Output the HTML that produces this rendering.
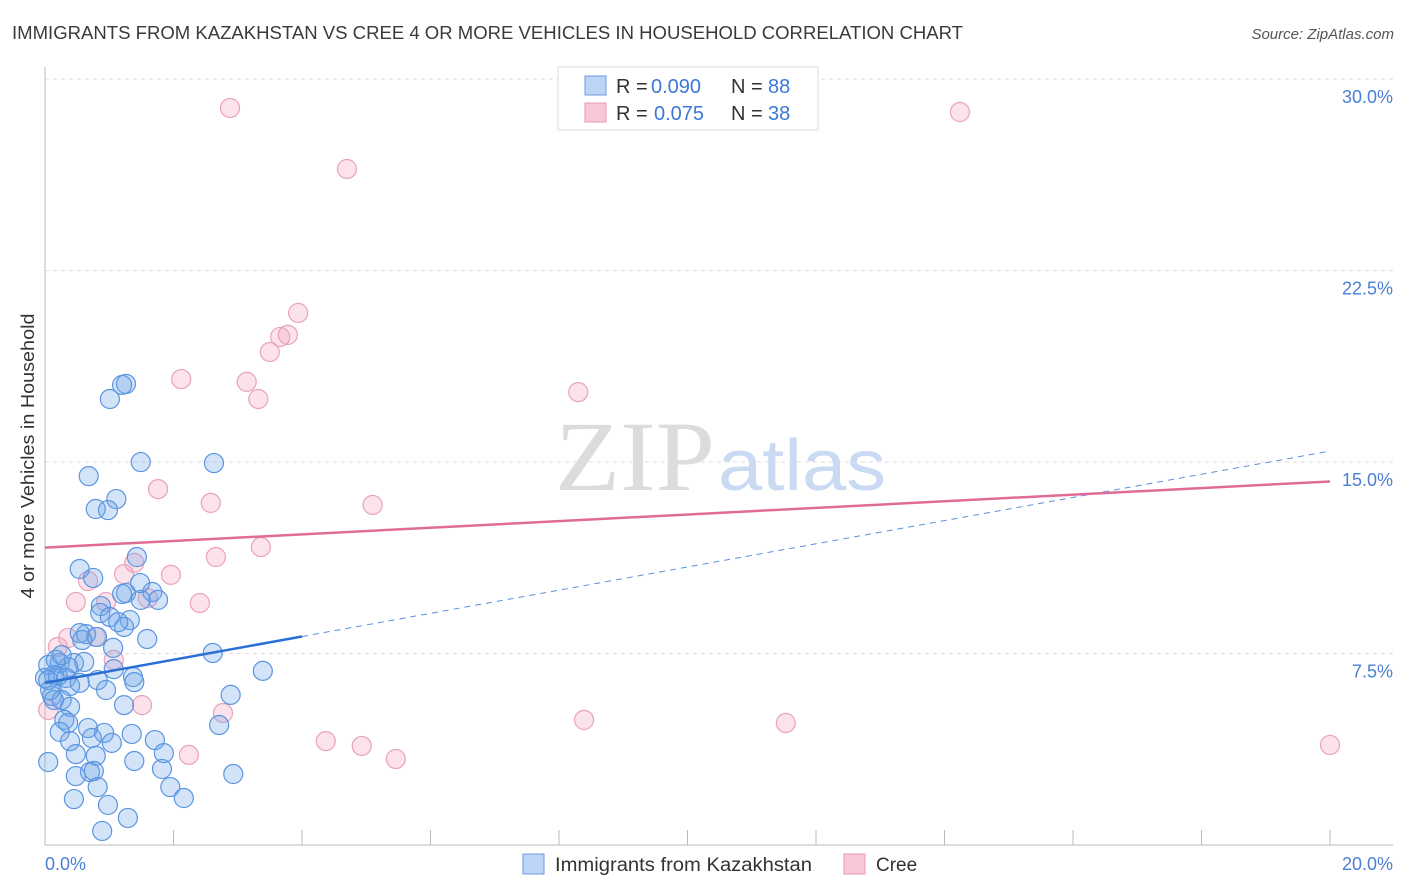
<!DOCTYPE html>
<html><head><meta charset="utf-8"><style>
body{margin:0;background:#fff;font-family:"Liberation Sans",sans-serif;}
svg{display:block}
</style></head><body>
<svg width="1406" height="892" xmlns="http://www.w3.org/2000/svg">
<text x="12" y="39" font-size="18" fill="#3a3a3a" textLength="951" lengthAdjust="spacingAndGlyphs">IMMIGRANTS FROM KAZAKHSTAN VS CREE 4 OR MORE VEHICLES IN HOUSEHOLD CORRELATION CHART</text>
<text x="1394" y="39" font-size="15" fill="#555" font-style="italic" text-anchor="end">Source: ZipAtlas.com</text>
<g>
<text x="555" y="490" font-size="100" font-family="Liberation Serif,serif" fill="#dcdcdc" textLength="160" lengthAdjust="spacingAndGlyphs">ZIP</text>
<text x="718" y="490" font-size="72" fill="#c9daf2" textLength="168" lengthAdjust="spacingAndGlyphs">atlas</text>
</g>
<g id="grid"></g>
<g id="axes"></g>
<g id="pts"></g>
<g id="trends"></g>
<text transform="translate(34,456) rotate(-90)" font-size="18.5" fill="#333" text-anchor="middle" textLength="285" lengthAdjust="spacingAndGlyphs">4 or more Vehicles in Household</text>
<g>
<rect x="558" y="67" width="260" height="63" fill="#fff" stroke="#ddd"/>
<rect x="585" y="76" width="21" height="19" fill="#bcd4f6" stroke="#6b9de0"/>
<rect x="585" y="103" width="21" height="19" fill="#f8c8d8" stroke="#e89ab5"/>
<text x="616" y="93" font-size="20" fill="#333">R = <tspan fill="#3b78d8" x="651">0.090</tspan><tspan x="731">N = </tspan><tspan fill="#3b78d8" x="768">88</tspan></text>
<text x="616" y="120" font-size="20" fill="#333">R = <tspan fill="#3b78d8" x="654">0.075</tspan><tspan x="731">N = </tspan><tspan fill="#3b78d8" x="768">38</tspan></text>
</g>
<g>
<rect x="523" y="854" width="21" height="20" fill="#bcd4f6" stroke="#6b9de0"/>
<text x="555" y="871" font-size="19" fill="#333" textLength="257" lengthAdjust="spacingAndGlyphs">Immigrants from Kazakhstan</text>
<rect x="844" y="854" width="21" height="20" fill="#f8c8d8" stroke="#e89ab5"/>
<text x="876" y="871" font-size="19" fill="#333">Cree</text>
</g>
</svg>
<script>
const yTicks=[7.5,15,22.5,30];
const yTickLabels=["7.5%","15.0%","22.5%","30.0%"];
const xTicks=[0,2,4,6,8,10,12,14,16,18,20];
const blueX=[1.26,1.20,1.01,1.49,2.63,0.68,1.11,0.79,0.98,1.43,0.54,0.75,1.67,1.26,1.20,0.87,1.76,1.49,1.32,1.23,0.64,0.54,0.81,1.59,1.06,2.61,0.05,0.23,0.45,0.61,0.36,1.07,3.39,0.14,0.0,0.20,0.33,1.37,0.54,0.39,1.39,2.89,0.11,0.14,0.26,1.23,0.39,2.71,0.30,0.36,0.67,0.92,0.23,1.35,0.73,1.71,1.04,0.39,1.85,0.48,0.79,1.39,0.05,1.82,2.93,0.70,0.48,0.76,1.95,0.82,2.16,0.45,0.98,1.29,0.89,0.05,0.08,0.17,0.26,0.86,1.01,1.14,0.58,1.48,0.82,0.95];
const blueY=[18.06,18.02,17.47,15.00,14.96,14.45,13.55,13.16,13.12,11.28,10.81,10.46,9.91,9.87,9.83,9.36,9.60,9.60,8.81,8.54,8.26,8.30,8.15,8.07,7.72,7.52,7.05,7.13,7.13,7.17,6.97,6.89,6.82,6.66,6.54,6.62,6.54,6.58,6.35,6.23,6.38,5.88,5.84,5.68,5.68,5.48,5.41,4.70,4.90,4.78,4.58,4.39,4.43,4.35,4.19,4.11,4.00,4.07,3.60,3.56,3.49,3.29,3.25,2.98,2.78,2.86,2.70,2.90,2.27,2.27,1.84,1.80,1.57,1.06,0.55,6.46,6.07,7.25,7.44,9.09,8.93,8.73,8.03,10.26,6.46,6.07];
const pinkX=[2.88,14.24,4.70,3.94,3.78,3.66,3.50,2.12,3.14,8.30,3.32,1.76,2.58,5.10,3.36,2.66,1.39,1.23,1.96,0.67,0.48,0.95,2.41,1.60,0.36,0.79,0.20,1.07,1.51,2.77,8.39,11.53,4.37,4.93,2.24,5.46,20.0,0.05];
const pinkY=[28.87,28.71,26.48,20.84,19.98,19.90,19.31,18.25,18.14,17.74,17.47,13.94,13.40,13.32,11.67,11.28,11.05,10.61,10.58,10.34,9.52,9.52,9.48,9.67,8.11,8.15,7.76,7.25,5.48,5.17,4.90,4.78,4.07,3.88,3.53,3.37,3.92,5.29];
const blueTrend=[6.35,15.43];
const pinkTrend=[11.65,14.24];
const NS="http://www.w3.org/2000/svg";
const X=v=>45+v*64.25, Y=v=>845-v*25.53;
function mk(tag,attrs,parent){const e=document.createElementNS(NS,tag);for(const k in attrs)e.setAttribute(k,attrs[k]);document.getElementById(parent).appendChild(e);return e;}
yTicks.forEach((t,i)=>{
 const g=mk('line',{x1:45,x2:1393,y1:Y(t),y2:Y(t),stroke:'#ddd','stroke-dasharray':'4,4'},'grid');
 
 
 const l=mk('text',{x:1393,y:Y(t)+24,'font-size':18,fill:'#4a7fd6','text-anchor':'end'},'axes');
 l.textContent=yTickLabels[i];
 
 
});
const ax1=mk('line',{x1:45,x2:1393,y1:845,y2:845,stroke:'#bbb'},'axes');


const ax2=mk('line',{x1:45,x2:45,y1:67,y2:845,stroke:'#bbb'},'axes');


xTicks.forEach(t=>{const e=mk('line',{x1:X(t),x2:X(t),y1:830,y2:845,stroke:'#bbb'},'axes');
 
 });
const x0=mk('text',{x:45,y:870,'font-size':18,fill:'#4a7fd6'},'axes');x0.textContent='0.0%';


const x1=mk('text',{x:1393,y:870,'font-size':18,fill:'#4a7fd6','text-anchor':'end'},'axes');x1.textContent='20.0%';


pinkX.forEach((v,i)=>{const c=mk('circle',{cx:X(v),cy:Y(pinkY[i]),r:9.5,fill:'rgba(242,160,188,0.3)',stroke:'#eaa2bc','stroke-width':1.2},'pts');
 
 });
blueX.forEach((v,i)=>{const c=mk('circle',{cx:X(v),cy:Y(blueY[i]),r:9.5,fill:'rgba(110,165,232,0.3)',stroke:'#5b95e0','stroke-width':1.2},'pts');
 
 });
const by=x=>blueTrend[0]+(blueTrend[1]-blueTrend[0])*x/20;
const b1=mk('line',{x1:X(0),y1:Y(by(0)),x2:X(4),y2:Y(by(4)),stroke:'#2a6fd6','stroke-width':2.5},'trends');


const b2=mk('line',{x1:X(4),y1:Y(by(4)),x2:X(20),y2:Y(by(20)),stroke:'#5b8fdd','stroke-width':1,'stroke-dasharray':'6,5'},'trends');


const p1=mk('line',{x1:X(0),y1:Y(pinkTrend[0]),x2:X(20),y2:Y(pinkTrend[1]),stroke:'#e06b96','stroke-width':2.5},'trends');


</script>
</body></html>
